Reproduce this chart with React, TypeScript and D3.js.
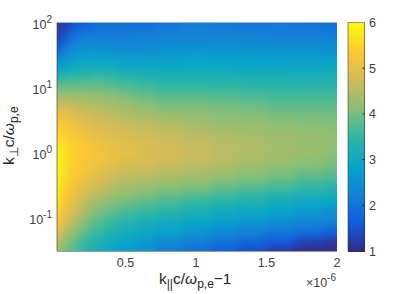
import React from 'react';
import * as d3 from 'd3';

// k_parallel columns (x 1e-6) and k_perp rows
const kPar = [0.02, 0.04, 0.07, 0.1, 0.15, 0.2, 0.3, 0.4, 0.5, 0.65, 0.8, 1.0, 1.2, 1.4, 1.6, 1.8, 2.0];
const kPerp = [85, 60, 42, 30, 21, 15, 10.6, 7.5, 5.3, 3.8, 2.7, 1.9, 1.3, 0.95, 0.67, 0.47, 0.33, 0.24, 0.17, 0.12, 0.084, 0.06, 0.042, 0.034];
// one list per k_parallel column, top row first
const columns = [
  [1.2, 1.3, 1.5, 2.2, 2.7, 3.3, 3.8, 4.3, 4.7, 5.1, 5.3, 5.5, 5.8, 6.0, 6.0, 5.95, 5.85, 5.8, 5.7, 5.6, 5.4, 5.1, 4.7, 4.4],
  [1.2, 1.3, 1.7, 2.4, 2.8, 3.4, 3.9, 4.4, 4.8, 5.2, 5.4, 5.6, 5.75, 5.85, 5.85, 5.75, 5.7, 5.6, 5.5, 5.3, 5.0, 4.7, 4.4, 4.2],
  [1.3, 1.6, 2.1, 2.5, 2.9, 3.4, 3.9, 4.4, 4.8, 5.1, 5.3, 5.45, 5.6, 5.65, 5.6, 5.55, 5.5, 5.4, 5.3, 5.1, 4.85, 4.5, 4.2, 4.05],
  [1.4, 1.9, 2.3, 2.6, 3.0, 3.5, 3.9, 4.3, 4.7, 5.0, 5.2, 5.35, 5.5, 5.55, 5.5, 5.45, 5.35, 5.25, 5.1, 4.9, 4.6, 4.3, 4.05, 3.9],
  [1.7, 2.1, 2.4, 2.7, 3.1, 3.5, 3.9, 4.3, 4.6, 4.9, 5.1, 5.25, 5.4, 5.45, 5.4, 5.3, 5.2, 5.05, 4.9, 4.7, 4.4, 4.1, 3.85, 3.7],
  [1.8, 2.2, 2.5, 2.8, 3.1, 3.5, 3.9, 4.3, 4.6, 4.8, 5.0, 5.15, 5.3, 5.35, 5.3, 5.2, 5.0, 4.85, 4.6, 4.4, 4.1, 3.8, 3.55, 3.45],
  [2.0, 2.2, 2.5, 2.8, 3.1, 3.6, 3.9, 4.25, 4.5, 4.7, 4.85, 5.0, 5.2, 5.25, 5.15, 5.0, 4.8, 4.55, 4.3, 4.05, 3.8, 3.55, 3.3, 3.2],
  [2.0, 2.2, 2.4, 2.8, 3.1, 3.5, 3.8, 4.15, 4.4, 4.6, 4.75, 4.9, 5.05, 5.1, 5.0, 4.8, 4.6, 4.4, 4.1, 3.85, 3.55, 3.3, 3.05, 2.95],
  [2.0, 2.2, 2.4, 2.7, 3.0, 3.4, 3.7, 4.05, 4.3, 4.5, 4.7, 4.85, 4.95, 5.0, 4.85, 4.65, 4.45, 4.2, 3.95, 3.65, 3.35, 3.1, 2.85, 2.75],
  [2.0, 2.25, 2.4, 2.7, 3.0, 3.3, 3.6, 3.9, 4.15, 4.4, 4.6, 4.75, 4.85, 4.9, 4.8, 4.6, 4.35, 4.1, 3.8, 3.5, 3.2, 2.95, 2.65, 2.55],
  [2.1, 2.3, 2.5, 2.7, 3.0, 3.25, 3.5, 3.8, 4.05, 4.3, 4.5, 4.65, 4.75, 4.8, 4.7, 4.5, 4.25, 3.95, 3.65, 3.35, 3.05, 2.8, 2.4, 2.2],
  [2.2, 2.3, 2.5, 2.8, 3.0, 3.25, 3.5, 3.8, 4.05, 4.25, 4.4, 4.55, 4.65, 4.7, 4.6, 4.4, 4.15, 3.85, 3.5, 3.2, 2.9, 2.6, 2.2, 2.0],
  [2.15, 2.3, 2.55, 2.75, 3.0, 3.25, 3.5, 3.75, 4.0, 4.15, 4.3, 4.45, 4.55, 4.55, 4.5, 4.3, 4.0, 3.7, 3.35, 3.05, 2.75, 2.4, 1.95, 1.75],
  [2.1, 2.3, 2.5, 2.75, 2.95, 3.2, 3.45, 3.7, 3.95, 4.1, 4.25, 4.35, 4.45, 4.45, 4.35, 4.15, 3.9, 3.55, 3.25, 2.95, 2.6, 2.2, 1.8, 1.5],
  [2.1, 2.25, 2.5, 2.75, 2.95, 3.2, 3.4, 3.65, 3.85, 4.05, 4.2, 4.3, 4.35, 4.35, 4.25, 4.05, 3.75, 3.45, 3.1, 2.8, 2.45, 2.05, 1.6, 1.25],
  [2.05, 2.25, 2.5, 2.7, 3.0, 3.2, 3.4, 3.65, 3.85, 4.0, 4.15, 4.25, 4.3, 4.25, 4.15, 3.9, 3.6, 3.3, 2.95, 2.65, 2.3, 1.85, 1.3, 1.05],
  [2.0, 2.2, 2.45, 2.7, 3.0, 3.25, 3.45, 3.65, 3.85, 4.0, 4.1, 4.2, 4.2, 4.15, 4.05, 3.8, 3.5, 3.2, 2.85, 2.5, 2.2, 1.7, 1.15, 1.05],
];
const xTicks = [0.5, 1, 1.5, 2];
const yTickExps = [2, 1, 0, -1];
const barTicks = [1, 2, 3, 4, 5, 6];
const parula = ['#352a87', '#0f5cdd', '#1481d6', '#06a4ca', '#2eb7a4', '#87bf77', '#d1bb59', '#fec832', '#f9fb0e'];

const width = 415;
const height = 294;
const left = 57;
const right = 337;
const top = 22.5;
const bottom = 251;

const x = d3.scaleLinear().domain([0.015, 2]).range([left, right]);
const y = d3.scaleLog().domain([Math.pow(10, -1.5), 100]).range([bottom, top]);
const bar = d3.scaleLinear().domain([1, 6]).range([bottom, top]);
const color = d3.scaleLinear<string>()
  .domain(parula.map((_, i) => 1 + (5 * i) / (parula.length - 1)))
  .range(parula)
  .interpolate(d3.interpolateRgb);

// cell edges are midpoints between neighbours; outer cells overshoot so the blur doesn't fade at the clip
const overshoot = 20;
const xPos = kPar.map((d) => x(d));
const yPos = kPerp.map((d) => y(d));
const xEdges = [left - overshoot, ...d3.pairs(xPos).map(([a, b]) => (a + b) / 2), right + overshoot];
const yEdges = [top - overshoot, ...d3.pairs(yPos).map(([a, b]) => (a + b) / 2), bottom + overshoot];

const barLevels = d3.range(64).map((i) => 1 + (5 * i) / 64);

const font = '"Liberation Sans", Arial, sans-serif';
const tickFill = '#404040';

export default function App() {
  return (
    <svg width={width} height={height} style={{ position: 'absolute', left: 0, top: 0, background: '#fff' }} fontFamily={font}>
      <defs>
        <clipPath id="plot-clip">
          <rect x={left} y={top} width={right - left} height={bottom - top} />
        </clipPath>
        <filter id="soft" x="-10%" y="-10%" width="120%" height="120%" colorInterpolationFilters="sRGB">
          <feGaussianBlur stdDeviation="4 3" />
        </filter>
      </defs>

      <g clipPath="url(#plot-clip)">
        <g filter="url(#soft)" shapeRendering="crispEdges">
          {columns.map((col, i) =>
            col.map((v, j) => (
              <rect
                key={`${i}-${j}`}
                x={xEdges[i]}
                y={yEdges[j]}
                width={xEdges[i + 1] - xEdges[i] + 0.5}
                height={yEdges[j + 1] - yEdges[j] + 0.5}
                fill={color(v)}
              />
            ))
          )}
        </g>
      </g>

      {/* axes box */}
      <line x1={left} x2={right} y1={top} y2={top} stroke="#9db4d0" strokeWidth={1} />
      <line x1={left} x2={left} y1={top} y2={bottom} stroke="#404040" strokeOpacity={0.65} strokeWidth={1} />
      <line x1={left} x2={right} y1={bottom + 0.5} y2={bottom + 0.5} stroke="#9a9a9a" strokeWidth={1} />

      {xTicks.map((t) => (
        <text key={t} x={x(t)} y={267} textAnchor="middle" fontSize={12.5} fill={tickFill}>
          {t}
        </text>
      ))}
      {yTickExps.map((e) => (
        <text key={e} x={52} y={y(Math.pow(10, e)) + 6} textAnchor="end" fontSize={12.5} fill={tickFill}>
          10
          <tspan dy={-6} fontSize={10}>
            {e}
          </tspan>
        </text>
      ))}

      <text x={336} y={287} textAnchor="end" fontSize={12.5} fill={tickFill}>
        {'\u00d710'}
        <tspan dy={-6} fontSize={10}>
          -6
        </tspan>
      </text>

      <text x={159} y={284} fontSize={15.5} fill="#262626">
        k
        <tspan dy={4} fontSize={12}>
          ||
        </tspan>
        <tspan dy={-4}>c/</tspan>
        <tspan fontStyle="italic">{'\u03c9'}</tspan>
        <tspan dy={4} fontSize={12}>
          p,e
        </tspan>
        <tspan dy={-4}>{'\u22121'}</tspan>
      </text>

      <text transform="translate(14,165) rotate(-90)" fontSize={15.5} fill="#262626">
        k
        <tspan dy={4} fontSize={12}>
          {'\u22a5'}
        </tspan>
        <tspan dy={-4}>c/</tspan>
        <tspan fontStyle="italic">{'\u03c9'}</tspan>
        <tspan dy={4} fontSize={12}>
          p,e
        </tspan>
      </text>

      {/* colorbar */}
      <g shapeRendering="crispEdges">
        {barLevels.map((v) => (
          <rect key={v} x={348} y={bar(v + 5 / 64)} width={16.5} height={bar(v) - bar(v + 5 / 64) + 0.5} fill={color(v + 2.5 / 64)} />
        ))}
      </g>
      <rect x={348} y={top} width={16.5} height={bottom - top} fill="none" stroke="#262626" strokeOpacity={0.5} strokeWidth={1} />
      {barTicks.map((t) => (
        <g key={t}>
          {t > 1 && t < 6 && <line x1={362.5} x2={364.5} y1={bar(t)} y2={bar(t)} stroke="#262626" />}
          <text x={369} y={bar(t) + 4.5} fontSize={12.5} fill={tickFill}>
            {t}
          </text>
        </g>
      ))}
    </svg>
  );
}
